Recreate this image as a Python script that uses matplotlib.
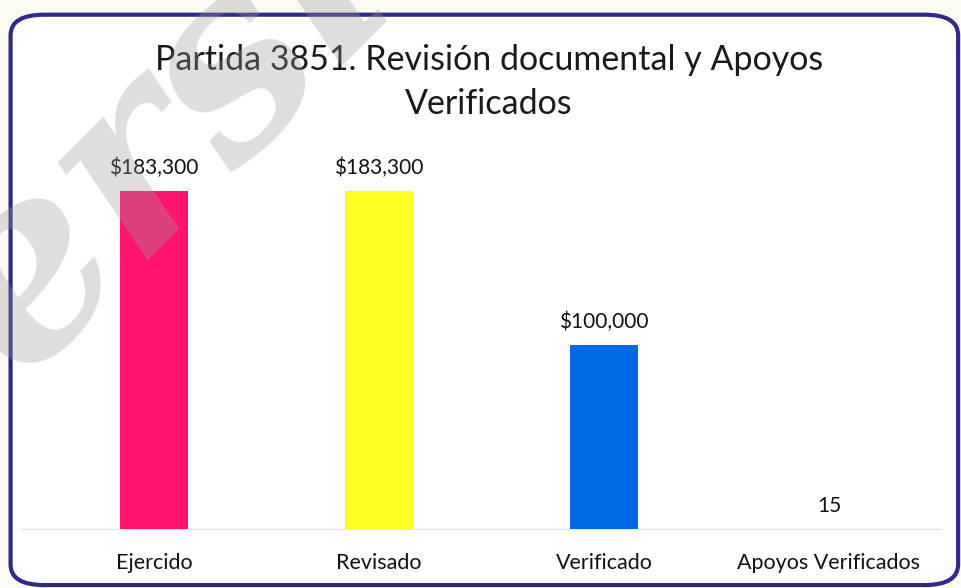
import matplotlib.pyplot as plt
from matplotlib.patches import FancyBboxPatch

# data
categorias = ["Ejercido", "Revisado", "Verificado", "Apoyos Verificados"]
valores = [183300, 183300, 100000, 15]
etiquetas = ["$183,300", "$183,300", "$100,000", "15"]
colores = ["#FF1470", "#FFFF22", "#0068E0", "#FFFFFF"]

titulo = "Partida 3851. Revisión documental y Apoyos\nVerificados"

plt.rcParams["font.family"] = ["Lato", "DejaVu Sans"]

fig = plt.figure(figsize=(9.61, 5.88), dpi=100)
fig.patch.set_facecolor("#FBFAF3")

# rounded frame of the chart
marco = FancyBboxPatch((0.011, 0.005), 0.986, 0.970,
                       boxstyle="round,pad=0,rounding_size=0.035",
                       transform=fig.transFigure, facecolor="white",
                       edgecolor="#302A85", linewidth=3, zorder=-1)
fig.patches.append(marco)

ax = fig.add_axes([0.0432, 0.1003, 0.9365, 0.6446])
ax.set_facecolor("none")

x = range(len(categorias))
ax.bar(x, valores, width=0.30, color=colores, zorder=2)
ax.axhline(0, xmin=-0.023, xmax=1.0, color="#E4E4E4", linewidth=1,
           zorder=1, clip_on=False)

for i, v in enumerate(valores):
    ax.annotate(etiquetas[i], (i, v), xytext=(0, 9), textcoords="offset points",
                ha="center", va="bottom", fontsize=15, color="#111111")

ax.set_xlim(-0.5, 3.5)
ax.set_ylim(0, 205500)
ax.set_xticks(list(x))
ax.set_xticklabels(categorias, fontsize=15.5, color="#111111")
ax.tick_params(axis="x", length=0, pad=17)
ax.set_yticks([])
for s in ax.spines.values():
    s.set_visible(False)

fig.text(0.509, 0.861, titulo, ha="center", va="center", fontsize=24.5,
         color="#1a1a1a", linespacing=1.45)

# watermark of the scan
fig.text(-0.11, 0.15, "Versión", fontsize=185, color="#9a9a9a", alpha=0.33,
         family="DejaVu Serif", style="italic", weight="bold",
         rotation=45, rotation_mode="anchor", ha="left", va="baseline", zorder=10)

fig.savefig("out.png", dpi=100)
